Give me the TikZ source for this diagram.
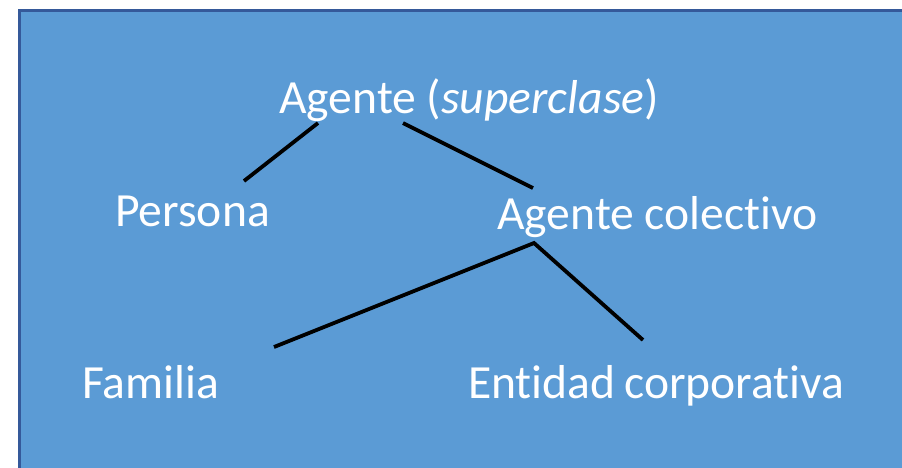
\documentclass[tikz,border=0pt]{standalone}
\usepackage{fontspec}
\setmainfont[Ligatures=NoCommon]{Carlito}
\definecolor{boxfill}{HTML}{5B9BD5}
\definecolor{boxline}{HTML}{35599A}
\begin{document}
\begin{tikzpicture}[x=1pt,y=-1pt,
  lbl/.style={anchor=base west,inner sep=0pt,text=white,font=\fontsize{47.6}{58}\selectfont},
  conn/.style={line width=3.8pt,black}]
\useasboundingbox (0,0) rectangle (902,467);
\clip (0,0) rectangle (902,467);
\fill[white] (0,0) rectangle (902,467);
\draw[boxline,line width=3pt,fill=boxfill] (19,10) rectangle (930,495);
\node[lbl] (sup) at (279,113) {Agente (\textit{superclase})};
\node[lbl] (per) at (115,226) {Persona};
\node[lbl] (col) at (497,229) {Agente colectivo};
\node[lbl] (fam) at (82,398) {Familia};
\node[lbl] (ent) at (468,398) {Entidad\hspace{-2pt} corporativa};
\draw[conn] ([shift={(39,10)}]sup.base west) -- ([shift={(129,-45)}]per.base west);
\draw[conn] ([shift={(124,10)}]sup.base west) -- ([shift={(36,-41)}]col.base west);
\draw[conn] ([shift={(192,-51)}]fam.base west) -- ([shift={(37,14)}]col.base west) -- ([shift={(175,-58)}]ent.base west);
\end{tikzpicture}
\end{document}
